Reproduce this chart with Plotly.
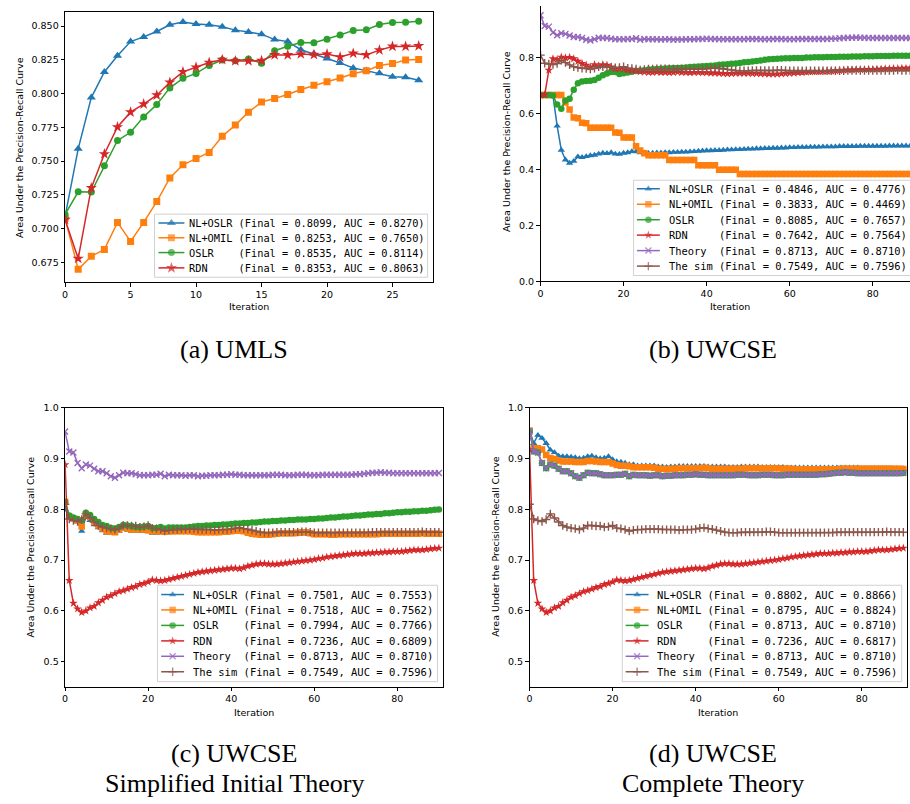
import plotly.graph_objects as go

W, H = 910, 804

# ---------------- data ----------------
SERIES = ["NL+OSLR", "NL+OMIL", "OSLR", "RDN", "Theory", "The sim"]

# (a) UMLS, iterations 0..27
ITER_A = list(range(28))
A_NLOSLR = [0.709, 0.759, 0.797, 0.816, 0.828, 0.8385, 0.842, 0.846, 0.851, 0.853,
            0.8515, 0.851, 0.8495, 0.847, 0.8456, 0.844, 0.840, 0.8385, 0.8325, 0.8295,
            0.826, 0.8227, 0.819, 0.817, 0.815, 0.8125, 0.812, 0.8099]
A_NLOMIL = [0.7075, 0.6697, 0.6794, 0.6845, 0.7045, 0.6904, 0.7045, 0.7199, 0.7374, 0.7472,
            0.7518, 0.7564, 0.7684, 0.7766, 0.7862, 0.7937, 0.7964, 0.7993, 0.803, 0.8061,
            0.8088, 0.8115, 0.8147, 0.8169, 0.8208, 0.8222, 0.8249, 0.8253]
A_OSLR = [0.7104, 0.7272, 0.727, 0.7464, 0.7652, 0.7713, 0.7827, 0.7918, 0.8042, 0.8113,
          0.8149, 0.8208, 0.8249, 0.8244, 0.8256, 0.8225, 0.8317, 0.8351, 0.8378, 0.8376,
          0.8403, 0.8434, 0.8468, 0.8473, 0.8512, 0.8527, 0.8529, 0.8535]
A_RDN = [0.7065, 0.6777, 0.7301, 0.7552, 0.7752, 0.7862, 0.7922, 0.7988, 0.8083, 0.8161,
         0.8195, 0.823, 0.8251, 0.8242, 0.8242, 0.8244, 0.8286, 0.8286, 0.8293, 0.8288,
         0.8293, 0.8271, 0.8298, 0.8286, 0.8322, 0.8349, 0.8349, 0.8353]

# UWCSE panels, iterations 0..90
ITER_U = list(range(91))
THEORY = [0.953, 0.914, 0.912, 0.891, 0.881, 0.888, 0.886, 0.880, 0.875, 0.875,
          0.871, 0.865, 0.862, 0.867, 0.872, 0.871, 0.871, 0.869, 0.867, 0.867,
          0.867, 0.868, 0.868, 0.870, 0.865, 0.868, 0.867, 0.867, 0.867, 0.866,
          0.867, 0.867, 0.865, 0.866, 0.866, 0.867, 0.867, 0.867, 0.868, 0.868,
          0.869, 0.868, 0.868, 0.867, 0.867, 0.867, 0.867, 0.867, 0.867, 0.867,
          0.868, 0.868, 0.868, 0.867, 0.867, 0.867, 0.868, 0.868, 0.868, 0.867,
          0.867, 0.867, 0.868, 0.868, 0.868, 0.868, 0.868, 0.868, 0.868, 0.868,
          0.869, 0.869, 0.870, 0.871, 0.872, 0.872, 0.873, 0.872, 0.872, 0.871,
          0.871, 0.871, 0.871, 0.871, 0.871, 0.871, 0.871, 0.871, 0.871, 0.871,
          0.8713]
THE_SIM = [0.810, 0.781, 0.778, 0.776, 0.780, 0.791, 0.783, 0.775, 0.768, 0.765,
           0.763, 0.762, 0.760, 0.763, 0.768, 0.768, 0.767, 0.767, 0.765, 0.766,
           0.768, 0.763, 0.762, 0.760, 0.757, 0.759, 0.760, 0.760, 0.761, 0.761,
           0.761, 0.761, 0.760, 0.760, 0.760, 0.760, 0.759, 0.760, 0.760, 0.760,
           0.761, 0.763, 0.764, 0.762, 0.761, 0.759, 0.757, 0.755, 0.754, 0.754,
           0.754, 0.755, 0.755, 0.755, 0.755, 0.755, 0.755, 0.756, 0.756, 0.755,
           0.754, 0.754, 0.754, 0.754, 0.754, 0.754, 0.754, 0.754, 0.754, 0.754,
           0.754, 0.754, 0.754, 0.754, 0.755, 0.755, 0.755, 0.755, 0.755, 0.755,
           0.755, 0.755, 0.755, 0.755, 0.755, 0.755, 0.756, 0.755, 0.755, 0.755,
           0.7549]
RDN_C = [0.888, 0.660, 0.615, 0.604, 0.597, 0.600, 0.606, 0.609, 0.616, 0.621,
         0.627, 0.630, 0.634, 0.638, 0.640, 0.643, 0.646, 0.648, 0.652, 0.654,
         0.657, 0.661, 0.660, 0.659, 0.660, 0.662, 0.664, 0.666, 0.668, 0.670,
         0.672, 0.674, 0.676, 0.677, 0.678, 0.679, 0.680, 0.681, 0.682, 0.683,
         0.684, 0.684, 0.683, 0.685, 0.688, 0.690, 0.692, 0.693, 0.693, 0.692,
         0.692, 0.692, 0.693, 0.694, 0.695, 0.696, 0.697, 0.698, 0.699, 0.700,
         0.701, 0.703, 0.704, 0.706, 0.707, 0.708, 0.709, 0.710, 0.711, 0.712,
         0.713, 0.713, 0.713, 0.714, 0.714, 0.715, 0.715, 0.716, 0.716, 0.717,
         0.717, 0.717, 0.718, 0.719, 0.720, 0.720, 0.720, 0.721, 0.722, 0.723,
         0.7236]
RDN_D_START = 0.918

# (b) UWCSE
B_NLOSLR = [0.667, 0.667, 0.667, 0.665, 0.556, 0.470, 0.435, 0.423, 0.430, 0.446,
            0.444, 0.447, 0.450, 0.452, 0.456, 0.459, 0.458, 0.461, 0.456, 0.455,
            0.459, 0.461, 0.465, 0.464, 0.461, 0.460, 0.458, 0.459, 0.460, 0.460,
            0.461, 0.461, 0.462, 0.462, 0.463, 0.463, 0.464, 0.465, 0.466, 0.467,
            0.468, 0.468, 0.469, 0.469, 0.470, 0.471, 0.471, 0.472, 0.472, 0.473,
            0.474, 0.474, 0.475, 0.475, 0.476, 0.476, 0.477, 0.477, 0.478, 0.478,
            0.479, 0.479, 0.480, 0.480, 0.480, 0.481, 0.481, 0.481, 0.482, 0.482,
            0.482, 0.482, 0.483, 0.483, 0.483, 0.483, 0.483, 0.484, 0.484, 0.484,
            0.484, 0.484, 0.484, 0.484, 0.485, 0.485, 0.485, 0.485, 0.485, 0.485,
            0.4846]
B_NLOMIL = [0.667, 0.667, 0.667, 0.667, 0.667, 0.667, 0.640, 0.615, 0.586, 0.584,
            0.568, 0.566, 0.550, 0.550, 0.550, 0.550, 0.550, 0.550, 0.533, 0.532,
            0.515, 0.515, 0.515, 0.483, 0.468, 0.458, 0.451, 0.451, 0.451, 0.451,
            0.451, 0.434, 0.434, 0.434, 0.434, 0.434, 0.434, 0.434, 0.415, 0.415,
            0.415, 0.415, 0.415, 0.399, 0.399, 0.399, 0.399, 0.399, 0.384, 0.384,
            0.384, 0.384, 0.384, 0.384, 0.384, 0.384, 0.384, 0.384, 0.384, 0.384,
            0.384, 0.384, 0.384, 0.384, 0.384, 0.384, 0.384, 0.384, 0.384, 0.384,
            0.384, 0.384, 0.384, 0.384, 0.384, 0.384, 0.384, 0.384, 0.384, 0.384,
            0.384, 0.384, 0.384, 0.384, 0.384, 0.384, 0.384, 0.384, 0.384, 0.384,
            0.3833]
B_OSLR = [0.667, 0.667, 0.667, 0.665, 0.633, 0.618, 0.647, 0.654, 0.686, 0.709,
          0.715, 0.717, 0.718, 0.721, 0.729, 0.738, 0.744, 0.749, 0.749, 0.742,
          0.745, 0.748, 0.750, 0.753, 0.755, 0.756, 0.758, 0.759, 0.760, 0.761,
          0.762, 0.763, 0.764, 0.764, 0.765, 0.766, 0.767, 0.768, 0.769, 0.770,
          0.771, 0.772, 0.773, 0.775, 0.776, 0.777, 0.779, 0.780, 0.782, 0.784,
          0.785, 0.787, 0.789, 0.791, 0.793, 0.795, 0.796, 0.797, 0.798, 0.799,
          0.799, 0.800, 0.800, 0.800, 0.801, 0.801, 0.802, 0.802, 0.802, 0.803,
          0.803, 0.803, 0.804, 0.804, 0.804, 0.805, 0.805, 0.805, 0.806, 0.806,
          0.806, 0.807, 0.807, 0.807, 0.807, 0.808, 0.808, 0.808, 0.808, 0.808,
          0.8085]
B_RDN = [0.667, 0.667, 0.756, 0.797, 0.794, 0.803, 0.800, 0.802, 0.797, 0.788,
         0.780, 0.774, 0.767, 0.776, 0.771, 0.776, 0.774, 0.768, 0.762, 0.762,
         0.760, 0.756, 0.755, 0.754, 0.750, 0.749, 0.748, 0.748, 0.749, 0.748,
         0.748, 0.747, 0.748, 0.749, 0.748, 0.748, 0.747, 0.748, 0.748, 0.747,
         0.747, 0.746, 0.746, 0.745, 0.744, 0.743, 0.744, 0.745, 0.745, 0.745,
         0.745, 0.744, 0.744, 0.743, 0.743, 0.742, 0.742, 0.742, 0.743, 0.744,
         0.745, 0.746, 0.747, 0.748, 0.749, 0.750, 0.751, 0.751, 0.752, 0.752,
         0.753, 0.754, 0.755, 0.756, 0.757, 0.757, 0.758, 0.758, 0.758, 0.759,
         0.759, 0.760, 0.760, 0.761, 0.761, 0.762, 0.762, 0.763, 0.763, 0.764,
         0.7642]

# (c) UWCSE, simplified initial theory
C_NLOSLR = [0.800, 0.785, 0.780, 0.776, 0.757, 0.785, 0.778, 0.770, 0.764, 0.758,
            0.753, 0.753, 0.753, 0.757, 0.762, 0.759, 0.757, 0.757, 0.757, 0.757,
            0.756, 0.753, 0.753, 0.754, 0.753, 0.754, 0.755, 0.755, 0.755, 0.755,
            0.755, 0.755, 0.753, 0.753, 0.754, 0.754, 0.754, 0.754, 0.754, 0.754,
            0.755, 0.756, 0.756, 0.755, 0.753, 0.751, 0.750, 0.749, 0.749, 0.749,
            0.749, 0.750, 0.751, 0.751, 0.751, 0.751, 0.752, 0.752, 0.752, 0.751,
            0.749, 0.749, 0.749, 0.749, 0.749, 0.749, 0.749, 0.749, 0.749, 0.749,
            0.749, 0.749, 0.749, 0.749, 0.749, 0.750, 0.750, 0.750, 0.750, 0.750,
            0.750, 0.750, 0.750, 0.750, 0.750, 0.751, 0.751, 0.750, 0.750, 0.750,
            0.7501]
C_NLOMIL = [0.815, 0.786, 0.782, 0.778, 0.766, 0.790, 0.785, 0.775, 0.768, 0.762,
            0.757, 0.756, 0.755, 0.760, 0.764, 0.762, 0.760, 0.760, 0.760, 0.760,
            0.759, 0.757, 0.757, 0.757, 0.756, 0.757, 0.757, 0.757, 0.757, 0.757,
            0.757, 0.756, 0.755, 0.755, 0.755, 0.755, 0.755, 0.755, 0.756, 0.756,
            0.757, 0.758, 0.758, 0.757, 0.754, 0.752, 0.751, 0.750, 0.750, 0.750,
            0.751, 0.752, 0.753, 0.753, 0.753, 0.753, 0.754, 0.755, 0.755, 0.753,
            0.751, 0.751, 0.751, 0.751, 0.750, 0.750, 0.751, 0.751, 0.751, 0.751,
            0.751, 0.751, 0.751, 0.751, 0.751, 0.751, 0.752, 0.752, 0.752, 0.752,
            0.752, 0.752, 0.752, 0.752, 0.752, 0.752, 0.753, 0.752, 0.752, 0.752,
            0.7518]
C_OSLR = [0.815, 0.788, 0.784, 0.781, 0.778, 0.793, 0.789, 0.781, 0.775, 0.769,
          0.767, 0.763, 0.762, 0.765, 0.769, 0.768, 0.767, 0.765, 0.765, 0.766,
          0.767, 0.763, 0.763, 0.765, 0.762, 0.764, 0.764, 0.764, 0.764, 0.764,
          0.765, 0.766, 0.767, 0.767, 0.768, 0.768, 0.769, 0.769, 0.770, 0.770,
          0.771, 0.772, 0.772, 0.773, 0.773, 0.774, 0.774, 0.775, 0.776, 0.776,
          0.777, 0.777, 0.778, 0.778, 0.779, 0.779, 0.780, 0.780, 0.780, 0.781,
          0.781, 0.782, 0.782, 0.783, 0.784, 0.784, 0.785, 0.786, 0.786, 0.787,
          0.788, 0.788, 0.789, 0.790, 0.790, 0.791, 0.791, 0.792, 0.792, 0.793,
          0.794, 0.794, 0.795, 0.795, 0.796, 0.796, 0.797, 0.797, 0.798, 0.799,
          0.7994]

# (d) UWCSE, complete theory (OSLR coincides with Theory)
D_NLOSLR = [0.955, 0.930, 0.946, 0.940, 0.930, 0.917, 0.912, 0.905, 0.904, 0.904,
            0.903, 0.902, 0.900, 0.901, 0.904, 0.905, 0.902, 0.900, 0.901, 0.904,
            0.898, 0.894, 0.893, 0.891, 0.888, 0.888, 0.886, 0.886, 0.886, 0.886,
            0.886, 0.884, 0.884, 0.883, 0.884, 0.884, 0.885, 0.885, 0.885, 0.885,
            0.885, 0.885, 0.885, 0.884, 0.884, 0.884, 0.884, 0.884, 0.883, 0.883,
            0.883, 0.884, 0.884, 0.884, 0.884, 0.884, 0.883, 0.883, 0.883, 0.883,
            0.883, 0.883, 0.882, 0.882, 0.882, 0.882, 0.882, 0.882, 0.882, 0.882,
            0.882, 0.882, 0.882, 0.882, 0.882, 0.882, 0.882, 0.882, 0.882, 0.882,
            0.881, 0.881, 0.881, 0.881, 0.881, 0.881, 0.881, 0.881, 0.880, 0.880,
            0.8802]
D_NLOMIL = [0.955, 0.920, 0.920, 0.918, 0.907, 0.901, 0.899, 0.896, 0.894, 0.894,
            0.894, 0.893, 0.893, 0.893, 0.895, 0.895, 0.894, 0.893, 0.893, 0.893,
            0.890, 0.887, 0.886, 0.886, 0.885, 0.883, 0.883, 0.883, 0.883, 0.883,
            0.882, 0.880, 0.880, 0.879, 0.880, 0.880, 0.881, 0.881, 0.881, 0.881,
            0.881, 0.881, 0.882, 0.881, 0.880, 0.880, 0.880, 0.880, 0.880, 0.880,
            0.880, 0.880, 0.881, 0.881, 0.881, 0.881, 0.881, 0.881, 0.881, 0.881,
            0.881, 0.880, 0.880, 0.880, 0.879, 0.879, 0.879, 0.879, 0.879, 0.879,
            0.879, 0.879, 0.879, 0.879, 0.879, 0.880, 0.880, 0.880, 0.880, 0.880,
            0.880, 0.880, 0.880, 0.880, 0.880, 0.880, 0.880, 0.880, 0.880, 0.880,
            0.8795]

FINAL_A = [0.8099, 0.8253, 0.8535, 0.8353]
AUC_A = [0.8270, 0.7650, 0.8114, 0.8063]
FINAL_B = [0.4846, 0.3833, 0.8085, 0.7642, 0.8713, 0.7549]
AUC_B = [0.4776, 0.4469, 0.7657, 0.7564, 0.8710, 0.7596]
FINAL_C = [0.7501, 0.7518, 0.7994, 0.7236, 0.8713, 0.7549]
AUC_C = [0.7553, 0.7562, 0.7766, 0.6809, 0.8710, 0.7596]
FINAL_D = [0.8802, 0.8795, 0.8713, 0.7236, 0.8713, 0.7549]
AUC_D = [0.8866, 0.8824, 0.8710, 0.6817, 0.8710, 0.7596]

TICKS_A_Y = [0.675, 0.700, 0.725, 0.750, 0.775, 0.800, 0.825, 0.850]
CAPTION_LINES = ["(a) UMLS", "(b) UWCSE", "(c) UWCSE", "Simplified Initial Theory",
                 "(d) UWCSE", "Complete Theory"]
Y_TITLE = "Area Under the Precision-Recall Curve"
X_TITLE = "Iteration"

# ---------------- style ----------------
COLORS = ["#1f77b4", "#ff7f0e", "#2ca02c", "#d62728", "#9467bd", "#8c564b"]
SYMBOLS = ["triangle-up", "square", "circle", "star", "x-thin", "cross-thin"]
SIZES_A = [8, 7, 7, 8.5]
SIZES_U = [6.5, 6.5, 6.5, 6.5, 6, 6]
TICKFONT = dict(family="DejaVu Sans", size=9.5, color="black")
MONO = "DejaVu Sans Mono"


def px(x):
    return x / W


def py(y):
    return 1 - y / H


fig = go.Figure()


def marker(i, size):
    thin = SYMBOLS[i].endswith("thin")
    return dict(symbol=SYMBOLS[i], size=size, color=COLORS[i],
                line=dict(width=1.4 if thin else 0, color=COLORS[i]))


def add_series(x, y, i, ax, size):
    fig.add_trace(go.Scatter(
        x=x, y=y, mode="lines+markers", name=SERIES[i],
        line=dict(color=COLORS[i], width=1.5), marker=marker(i, size),
        xaxis="x" + ax, yaxis="y" + ax, showlegend=False, hoverinfo="skip"))


panels = {
    "": [(ITER_A, A_NLOSLR), (ITER_A, A_NLOMIL), (ITER_A, A_OSLR), (ITER_A, A_RDN)],
    "2": [(ITER_U, B_NLOSLR), (ITER_U, B_NLOMIL), (ITER_U, B_OSLR), (ITER_U, B_RDN),
          (ITER_U, THEORY), (ITER_U, THE_SIM)],
    "3": [(ITER_U, C_NLOSLR), (ITER_U, C_NLOMIL), (ITER_U, C_OSLR), (ITER_U, RDN_C),
          (ITER_U, THEORY), (ITER_U, THE_SIM)],
    "4": [(ITER_U, D_NLOSLR), (ITER_U, D_NLOMIL), (ITER_U, THEORY),
          (ITER_U, [RDN_D_START] + RDN_C[1:]), (ITER_U, THEORY), (ITER_U, THE_SIM)],
}
for ax, lst in panels.items():
    for i, (x, y) in enumerate(lst):
        add_series(x, y, i, ax, SIZES_A[i] if ax == "" else SIZES_U[i])


def axis(domain, rng, anchor, mirror=True, **kw):
    d = dict(domain=domain, range=rng, anchor=anchor, showline=True,
             linecolor="black", linewidth=1, mirror=mirror, ticks="outside",
             ticklen=3.5, tickwidth=1, tickcolor="black", showgrid=False,
             zeroline=False, tickfont=TICKFONT, fixedrange=True)
    d.update(kw)
    return d


# pixel geometry of each axes box
A_BOX = (62.3, 431.0, 6.0, 280.0)
B_BOX = (539.3, 910.0, 0.0, 279.0)
C_BOX = (62.3, 441.7, 407.3, 690.0)
D_BOX = (528.3, 907.3, 407.3, 690.0)


def dom(box):
    return [px(box[0]), px(box[1])], [py(box[3]), py(box[2])]


ax_dx, ax_dy = dom(A_BOX)
bx_dx, bx_dy = dom(B_BOX)
cx_dx, cx_dy = dom(C_BOX)
dx_dx, dx_dy = dom(D_BOX)

layout = dict(
    width=W, height=H, margin=dict(l=0, r=0, t=0, b=0),
    paper_bgcolor="white", plot_bgcolor="rgba(0,0,0,0)", showlegend=False,
    xaxis=axis(ax_dx, [0, 28.06], "y", tickvals=[0, 5, 10, 15, 20, 25]),
    yaxis=axis(ax_dy, [0.6602, 0.8605], "x", tickvals=TICKS_A_Y, tickformat=".3f"),
    xaxis2=axis(bx_dx, [0, 88.96], "y2", mirror=False, tickvals=[0, 20, 40, 60, 80]),
    yaxis2=axis(bx_dy, [0, 0.9859], "x2", mirror=False,
                tickvals=[0, 0.2, 0.4, 0.6, 0.8], tickformat=".1f"),
    xaxis3=axis(cx_dx, [0, 91.05], "y3", tickvals=[0, 20, 40, 60, 80]),
    yaxis3=axis(cx_dy, [0.451, 1.0], "x3", tickvals=[0.5, 0.6, 0.7, 0.8, 0.9, 1.0],
                tickformat=".1f"),
    xaxis4=axis(dx_dx, [0, 90.96], "y4", tickvals=[0, 20, 40, 60, 80]),
    yaxis4=axis(dx_dy, [0.451, 1.0], "x4", tickvals=[0.5, 0.6, 0.7, 0.8, 0.9, 1.0],
                tickformat=".1f"),
    # full-figure pixel overlay used only for the legend boxes
    xaxis5=dict(domain=[0, 1], range=[0, W], visible=False, fixedrange=True, anchor="y5"),
    yaxis5=dict(domain=[0, 1], range=[H, 0], visible=False, fixedrange=True, anchor="x5"),
)
fig.update_layout(**layout)

annotations = []

# ---------------- legends ----------------
LEGENDS = [
    dict(box=(152, 211, 426, 275), rows=[220, 235, 250, 265.5], line=(156, 182),
         tx=186, fs=10.3, finals=FINAL_A, aucs=AUC_A, sizes=SIZES_A),
    dict(box=(632.7, 176.7, 925, 273.3), rows=[185.3, 201, 216.7, 232.3, 248, 263.7],
         line=(636, 659), tx=666.7, fs=10.4, finals=FINAL_B, aucs=AUC_B, sizes=SIZES_U),
    dict(box=(155, 587.3, 436, 685), rows=[596.7, 612.3, 628, 643.7, 659.3, 675],
         line=(158.7, 181.7), tx=189.3, fs=10.5, finals=FINAL_C, aucs=AUC_C, sizes=SIZES_U),
    dict(box=(621.3, 587.3, 901.7, 685), rows=[596.7, 612.3, 628, 643.7, 659.3, 675],
         line=(624.7, 647.7), tx=655.3, fs=10.5, finals=FINAL_D, aucs=AUC_D, sizes=SIZES_U),
]
for lg in LEGENDS:
    x0, y0, x1, y1 = lg["box"]
    fig.add_trace(go.Scatter(
        x=[x0, x1, x1, x0, x0], y=[y0, y0, y1, y1, y0], mode="lines", fill="toself",
        fillcolor="rgba(255,255,255,0.85)", line=dict(color="#d0d0d0", width=1),
        xaxis="x5", yaxis="y5", showlegend=False, hoverinfo="skip"))
    for i, (yr, fv, av) in enumerate(zip(lg["rows"], lg["finals"], lg["aucs"])):
        la, lb = lg["line"]
        fig.add_trace(go.Scatter(
            x=[la, (la + lb) / 2, lb], y=[yr, yr, yr], mode="lines+markers",
            line=dict(color=COLORS[i], width=1.5),
            marker=dict(marker(i, lg["sizes"][i]), size=[0, lg["sizes"][i], 0]),
            xaxis="x5", yaxis="y5", showlegend=False, hoverinfo="skip"))
        label = f"{SERIES[i]:<8}(Final = {fv:.4f}, AUC = {av:.4f})".replace(" ", "\u00a0")
        annotations.append(dict(
            text=label, x=px(lg["tx"]), y=py(yr), xref="paper", yref="paper",
            xanchor="left", yanchor="middle", showarrow=False, borderpad=0,
            font=dict(family=MONO, size=lg["fs"], color="black")))

# ---------------- axis titles ----------------
for (x, y) in [(16, 143), (505, 137.5), (28, 548), (494, 548)]:
    annotations.append(dict(text=Y_TITLE, x=px(x), y=py(y), xref="paper", yref="paper",
                            textangle=-90, showarrow=False, xanchor="center",
                            yanchor="middle",
                            font=dict(family="DejaVu Sans", size=9.5, color="black")))
for (x, y) in [(246.6, 305), (729.6, 305), (252, 716), (717.8, 716)]:
    annotations.append(dict(text=X_TITLE, x=px(x), y=py(y), xref="paper", yref="paper",
                            showarrow=False, xanchor="center", yanchor="middle",
                            font=dict(family="DejaVu Sans", size=9.5, color="black")))

# partially visible "1.0" tick label of panel (b)
annotations.append(dict(text="1.0", x=px(534), y=1.0, xref="paper", yref="y2",
                        xanchor="right", yanchor="middle", showarrow=False,
                        font=TICKFONT))

# ---------------- captions ----------------
CAP_POS = [(232, 348), (712, 348), (232, 758), (232, 788), (712, 758), (712, 788)]
for text, (x, y) in zip(CAPTION_LINES, CAP_POS):
    annotations.append(dict(text=text, x=px(x), y=py(y), xref="paper", yref="paper",
                            showarrow=False, xanchor="center", yanchor="middle",
                            font=dict(family="Liberation Serif", size=26, color="black")))

fig.update_layout(annotations=annotations)
fig.write_html("out.html", config={"displayModeBar": False},
               post_script="document.body.style.margin='0';"
                           "document.body.style.overflow='hidden';")
